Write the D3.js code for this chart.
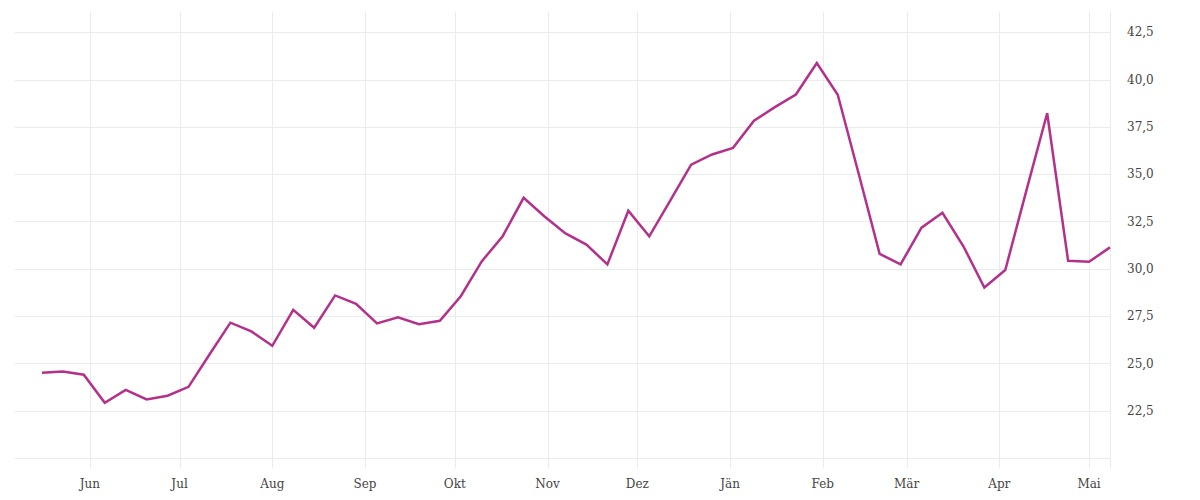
<!DOCTYPE html>
<html>
<head>
<meta charset="utf-8">
<script src="https://cdn.jsdelivr.net/npm/d3@7"></script>
<style>
  body { margin: 0; background: #fff; }
  svg text { font-family: "DejaVu Serif", serif; font-size: 12px; fill: #444; }
  .grid line { stroke: #ebebeb; stroke-width: 1; shape-rendering: crispEdges; }
</style>
</head>
<body>
<div id="chart"></div>
<script>

// weekly dates (Monday)
var weeks = [
  "2022-05-16", "2022-05-23", "2022-05-30", "2022-06-06", "2022-06-13", "2022-06-20", "2022-06-27",
  "2022-07-04", "2022-07-11", "2022-07-18", "2022-07-25", "2022-08-01", "2022-08-08", "2022-08-15",
  "2022-08-22", "2022-08-29", "2022-09-05", "2022-09-12", "2022-09-19", "2022-09-26", "2022-10-03",
  "2022-10-10", "2022-10-17", "2022-10-24", "2022-10-31", "2022-11-07", "2022-11-14", "2022-11-21",
  "2022-11-28", "2022-12-05", "2022-12-12", "2022-12-19", "2022-12-26", "2023-01-02", "2023-01-09",
  "2023-01-16", "2023-01-23", "2023-01-30", "2023-02-06", "2023-02-13", "2023-02-20", "2023-02-27",
  "2023-03-06", "2023-03-13", "2023-03-20", "2023-03-27", "2023-04-03", "2023-04-10", "2023-04-17",
  "2023-04-24", "2023-05-01", "2023-05-08"
];

var values = [
  24.50, 24.57, 24.40, 22.92, 23.60, 23.09, 23.29,
  23.76, 25.47, 27.15, 26.69, 25.93, 27.83, 26.88,
  28.59, 28.15, 27.11, 27.43, 27.07, 27.25, 28.55,
  30.39, 31.72, 33.75, 32.76, 31.87, 31.28, 30.23,
  33.07, 31.71, 33.60, 35.50, 36.04, 36.39, 37.82,
  38.54, 39.21, 40.87, 39.20, 35.02, 30.79, 30.23,
  32.17, 32.96, 31.19, 29.01, 29.93, 34.10, 38.22,
  30.42, 30.37, 31.13
];

var monthTicks = [
  "2022-06-01", "2022-07-01", "2022-08-01", "2022-09-01", "2022-10-01", "2022-11-01",
  "2022-12-01", "2023-01-01", "2023-02-01", "2023-03-01", "2023-04-01", "2023-05-01"
];
var monthLabels = ["Jun", "Jul", "Aug", "Sep", "Okt", "Nov", "Dez", "Jän", "Feb", "Mär", "Apr", "Mai"];

var yTicks = [20, 22.5, 25, 27.5, 30, 32.5, 35, 37.5, 40, 42.5];

var xDomain = ["2022-05-07", "2023-05-08"];
var yDomain = [19.47, 43.57];

var width = 1200;
var height = 500;
var plot = {left: 15, right: 1110, top: 12, bottom: 468};

var parse = d3.utcParse("%Y-%m-%d");
var data = weeks.map(function(w, i) { return {date: parse(w), value: values[i]}; });

var x = d3.scaleUtc()
    .domain(xDomain.map(parse))
    .range([plot.left, plot.right]);

var y = d3.scaleLinear()
    .domain(yDomain)
    .range([plot.bottom, plot.top]);

var fmt = d3.formatLocale({decimal: ",", thousands: ".", grouping: [3], currency: ["", " €"]}).format(".1f");

var svg = d3.select("#chart").append("svg")
    .attr("width", width)
    .attr("height", height);

// horizontal grid
svg.append("g")
    .attr("class", "grid")
  .selectAll("line")
    .data(yTicks)
  .enter().append("line")
    .attr("x1", plot.left)
    .attr("x2", plot.right)
    .attr("y1", function(d) { return Math.round(y(d)) + 0.5; })
    .attr("y2", function(d) { return Math.round(y(d)) + 0.5; });

// vertical grid, month starts plus right edge
svg.append("g")
    .attr("class", "grid")
  .selectAll("line")
    .data(monthTicks.map(parse).concat([x.domain()[1]]))
  .enter().append("line")
    .attr("x1", function(d) { return Math.round(x(d)) + 0.5; })
    .attr("x2", function(d) { return Math.round(x(d)) + 0.5; })
    .attr("y1", plot.top)
    .attr("y2", plot.bottom);

// month labels
svg.append("g")
  .selectAll("text")
    .data(monthTicks)
  .enter().append("text")
    .attr("x", function(d) { return x(parse(d)); })
    .attr("y", 488)
    .style("text-anchor", "middle")
    .text(function(d, i) { return monthLabels[i]; });

// value labels on the right, bottom line has none
svg.append("g")
  .selectAll("text")
    .data(yTicks.slice(1))
  .enter().append("text")
    .attr("x", plot.right + 17)
    .attr("y", function(d) { return y(d); })
    .attr("dy", ".35em")
    .text(function(d) { return fmt(d); });

var line = d3.line()
    .x(function(d) { return x(d.date); })
    .y(function(d) { return y(d.value); });

svg.append("path")
    .datum(data)
    .attr("fill", "none")
    .attr("stroke", "#b3318b")
    .attr("stroke-width", 2.5)
    .attr("stroke-linejoin", "miter")
    .attr("d", line);

</script>
</body>
</html>
